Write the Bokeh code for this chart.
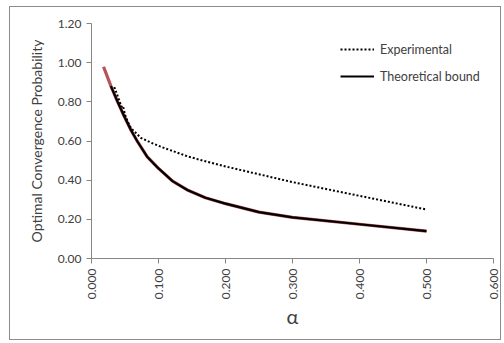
from bokeh.plotting import figure
from bokeh.models import Legend, LegendItem, FixedTicker, NumeralTickFormatter, Range1d
from bokeh.embed import file_html
from bokeh.resources import INLINE
import math

# Theoretical bound
theo_alpha = [0.018, 0.029, 0.039, 0.049, 0.059, 0.069, 0.083, 0.1, 0.121, 0.143, 0.17, 0.2, 0.25, 0.3, 0.4, 0.5]
theo_prob = [0.979, 0.88, 0.80, 0.725, 0.655, 0.595, 0.52, 0.46, 0.395, 0.35, 0.31, 0.28, 0.237, 0.21, 0.175, 0.14]

# Experimental
exp_alpha = [0.034, 0.038, 0.042, 0.045, 0.047, 0.050, 0.054, 0.0587, 0.0736, 0.09, 0.108, 0.143, 0.166, 0.2, 0.25, 0.3, 0.4, 0.5]
exp_prob = [0.875, 0.84, 0.80, 0.775, 0.78, 0.735, 0.70, 0.667, 0.616, 0.59, 0.565, 0.522, 0.50, 0.47, 0.43, 0.39, 0.32, 0.25]

x_ticks = [0.0, 0.1, 0.2, 0.3, 0.4, 0.5, 0.6]
y_ticks = [0.0, 0.2, 0.4, 0.6, 0.8, 1.0, 1.2]

FONT = "Lato"
AXIS_COL = "#868686"
TEXT_COL = "#404040"

p = figure(width=492, height=334, output_backend="svg", toolbar_location=None,
           x_range=Range1d(0, 0.6), y_range=Range1d(0, 1.2),
           min_border_left=81, min_border_right=9, min_border_top=16, min_border_bottom=83)
p.styles = {"border": "1px solid #8c8c8c", "margin-left": "9px", "margin-top": "6px"}
p.outline_line_color = None
p.xgrid.visible = False
p.ygrid.visible = False
p.background_fill_color = "white"
p.border_fill_color = "white"

for ax in (p.xaxis[0], p.yaxis[0]):
    ax.axis_line_color = AXIS_COL
    ax.major_tick_line_color = AXIS_COL
    ax.major_tick_out = 5
    ax.major_tick_in = 0
    ax.minor_tick_line_color = None
    ax.major_label_text_font = FONT
    ax.major_label_text_font_size = "12px"
    ax.major_label_text_color = TEXT_COL
    ax.axis_label_text_font = FONT
    ax.axis_label_text_font_style = "normal"
    ax.axis_label_text_color = TEXT_COL

p.xaxis.ticker = FixedTicker(ticks=x_ticks)
p.xaxis.formatter = NumeralTickFormatter(format="0.000")
p.xaxis.major_label_orientation = math.pi / 2
p.xaxis.axis_label = "α"
p.xaxis.axis_label_text_font_size = "20px"
p.xaxis.axis_label_standoff = 2

p.yaxis.ticker = FixedTicker(ticks=y_ticks)
p.yaxis.formatter = NumeralTickFormatter(format="0.00")
p.yaxis.axis_label = "Optimal Convergence Probability"
p.yaxis.axis_label_text_font_size = "14px"
p.yaxis.axis_label_standoff = 10

red = p.line(theo_alpha, theo_prob, line_color="#B5555A", line_width=3.2)
exp_r = p.line(exp_alpha, exp_prob, line_color="black", line_width=2, line_dash="2 2")
theo_r = p.line(theo_alpha[1:], theo_prob[1:], line_color="black", line_width=2.2)

legend = Legend(items=[LegendItem(label="Experimental", renderers=[exp_r]),
                       LegendItem(label="Theoretical bound", renderers=[theo_r])],
                location=(244, 167))
legend.border_line_alpha = 0
legend.background_fill_alpha = 0
legend.padding = 5
legend.margin = 0
legend.spacing = 7
legend.glyph_width = 34
legend.glyph_height = 20
legend.label_height = 20
legend.label_standoff = 6
legend.label_text_font = FONT
legend.label_text_font_size = "12.5px"
legend.label_text_color = TEXT_COL
p.add_layout(legend)

open("out.html", "w").write(file_html(p, INLINE))
